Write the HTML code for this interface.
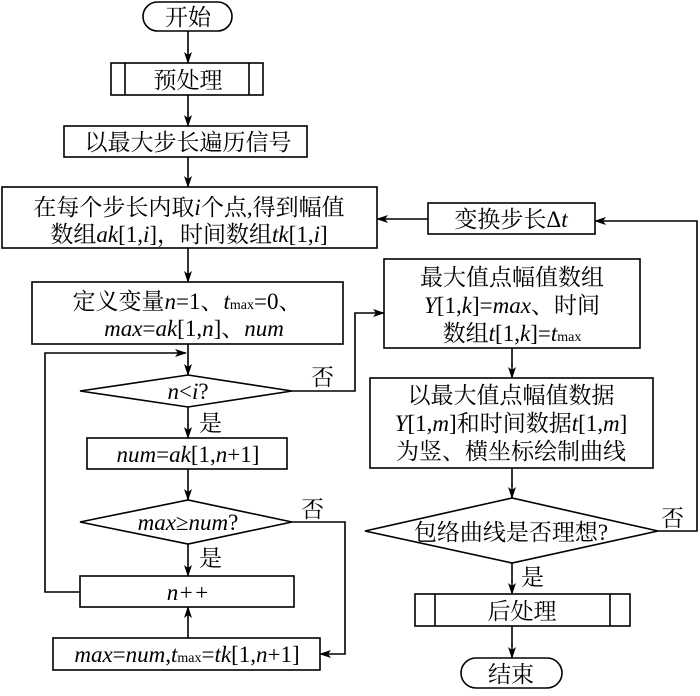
<!DOCTYPE html>
<html><head><meta charset="utf-8"><style>
html,body{margin:0;padding:0;background:#fff;}
svg text{font-family:"Liberation Serif","Noto Serif CJK SC","Noto Sans CJK SC",serif;font-size:23px;fill:#000;}
.i{font-style:italic;}
</style></head><body>
<svg width="700" height="691" viewBox="0 0 700 691" xmlns="http://www.w3.org/2000/svg">
<defs><marker id="a" markerWidth="12" markerHeight="8" refX="11" refY="4" orient="auto" markerUnits="userSpaceOnUse"><path d="M0,0 L12,4 L0,8 L3,4 z" fill="#000"/></marker></defs>
<g fill="none" stroke="#000" stroke-width="1.6">
<rect x="143" y="2" width="89" height="29" rx="14.5"/>
<rect x="111" y="63" width="152" height="32"/><line x1="125" y1="63" x2="125" y2="95"/><line x1="249" y1="63" x2="249" y2="95"/>
<rect x="64" y="126" width="243" height="31"/>
<rect x="2" y="187" width="375" height="61"/>
<rect x="32" y="282" width="311" height="62"/>
<polygon points="80,391 188,375 292,391 188,407"/>
<rect x="87" y="438" width="200" height="31"/>
<polygon points="80,522 188,500 292,522 188,544"/>
<rect x="80" y="576" width="214" height="31"/>
<rect x="53" y="638" width="267" height="32"/>
<rect x="428" y="203" width="167" height="31"/>
<rect x="384" y="259" width="256" height="89"/>
<rect x="370" y="378" width="283" height="90"/>
<polygon points="365,531 512,498 658,531 512,563"/>
<rect x="415" y="594" width="215" height="32"/><line x1="435" y1="594" x2="435" y2="626"/><line x1="610" y1="594" x2="610" y2="626"/>
<rect x="461" y="658" width="101" height="30" rx="15"/>
<line x1="188" y1="31" x2="188" y2="63" marker-end="url(#a)"/>
<line x1="188" y1="95" x2="188" y2="126" marker-end="url(#a)"/>
<line x1="188" y1="157" x2="188" y2="187" marker-end="url(#a)"/>
<line x1="188" y1="248" x2="188" y2="282" marker-end="url(#a)"/>
<line x1="188" y1="344" x2="188" y2="375" marker-end="url(#a)"/>
<polyline points="80,592 45,592 45,353 186,353" marker-end="url(#a)"/>
<line x1="188" y1="407" x2="188" y2="438" marker-end="url(#a)"/>
<line x1="188" y1="469" x2="188" y2="500" marker-end="url(#a)"/>
<line x1="188" y1="544" x2="188" y2="576" marker-end="url(#a)"/>
<line x1="188" y1="638" x2="188" y2="607" marker-end="url(#a)"/>
<polyline points="292,391 355,391 355,313 384,313" marker-end="url(#a)"/>
<polyline points="292,522 345,522 345,654 320,654" marker-end="url(#a)"/>
<line x1="428" y1="219" x2="377" y2="219" marker-end="url(#a)"/>
<polyline points="658,531 697,531 697,221 595,221" marker-end="url(#a)"/>
<line x1="512" y1="348" x2="512" y2="378" marker-end="url(#a)"/>
<line x1="512" y1="468" x2="512" y2="498" marker-end="url(#a)"/>
<line x1="512" y1="563" x2="512" y2="594" marker-end="url(#a)"/>
<line x1="512" y1="626" x2="512" y2="658" marker-end="url(#a)"/>
</g>
<g text-anchor="middle">
<text x="188" y="25">开始</text>
<text x="188" y="88">预处理</text>
<text x="188" y="150">以最大步长遍历信号</text>
<text x="189" y="215">在每个步长内取<tspan class="i">i</tspan>个点,得到幅值</text>
<text x="189" y="242">数组<tspan class="i">ak</tspan>[1,<tspan class="i">i</tspan>]，时间数组<tspan class="i">tk</tspan>[1,<tspan class="i">i</tspan>]</text>
<text x="187" y="309">定义变量<tspan class="i">n</tspan>=1、<tspan class="i">t</tspan><tspan font-size="14">max</tspan>=0、</text>
<text x="194" y="336"><tspan class="i">max</tspan>=<tspan class="i">ak</tspan>[1,<tspan class="i">n</tspan>]、<tspan class="i">num</tspan></text>
<text x="188" y="399"><tspan class="i">n</tspan>&lt;<tspan class="i">i</tspan>?</text>
<text x="188" y="462"><tspan class="i">num</tspan>=<tspan class="i">ak</tspan>[1,<tspan class="i">n</tspan>+1]</text>
<text x="188" y="530"><tspan class="i">max</tspan>≥<tspan class="i">num</tspan>?</text>
<text x="188" y="600" class="i">n++</text>
<text x="187" y="662"><tspan class="i">max</tspan>=<tspan class="i">num</tspan>,<tspan class="i">t</tspan><tspan font-size="14">max</tspan>=<tspan class="i">tk</tspan>[1,<tspan class="i">n</tspan>+1]</text>
<text x="511" y="227">变换步长Δ<tspan class="i">t</tspan></text>
<text x="512" y="285">最大值点幅值数组</text>
<text x="512" y="313"><tspan class="i">Y</tspan>[1,<tspan class="i">k</tspan>]=<tspan class="i">max</tspan>、时间</text>
<text x="512" y="341">数组<tspan class="i">t</tspan>[1,<tspan class="i">k</tspan>]=<tspan class="i">t</tspan><tspan font-size="14">max</tspan></text>
<text x="511" y="403">以最大值点幅值数据</text>
<text x="511" y="431"><tspan class="i">Y</tspan>[1,<tspan class="i">m</tspan>]和时间数据<tspan class="i">t</tspan>[1,<tspan class="i">m</tspan>]</text>
<text x="511" y="459">为竖、横坐标绘制曲线</text>
<text x="511" y="540">包络曲线是否理想?</text>
<text x="522" y="619">后处理</text>
<text x="511" y="682">结束</text>
</g>
<text x="311" y="385">否</text>
<text x="199" y="431">是</text>
<text x="301" y="517">否</text>
<text x="199" y="566">是</text>
<text x="661" y="526">否</text>
<text x="521" y="585">是</text>
</svg>
</body></html>
